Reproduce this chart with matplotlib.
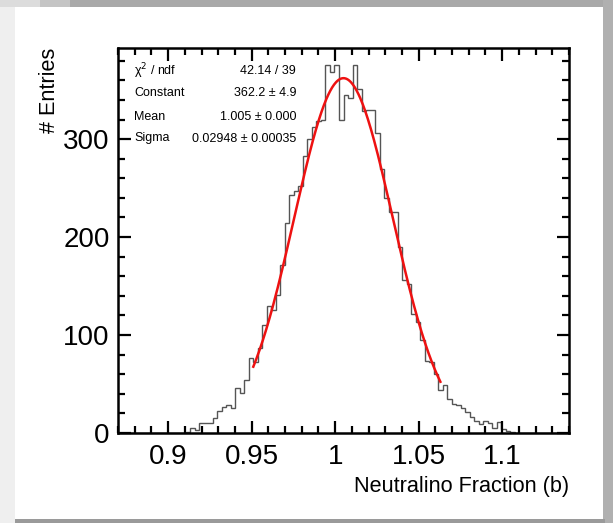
import numpy as np
import matplotlib
matplotlib.use("Agg")
import matplotlib.pyplot as plt
from matplotlib.patches import Rectangle
from matplotlib.ticker import MultipleLocator

plt.rcParams['font.family'] = ['Liberation Sans', 'DejaVu Sans']

# ---- data ----
x_min, x_max, n_bins = 0.87, 1.14, 100
counts = [0] * 15 + [
    1, 5, 3, 10, 10, 10, 15, 22, 27, 29,          # 15-24
    26, 46, 41, 54, 77, 72, 87, 110, 130, 126,    # 25-34
    141, 171, 214, 243, 247, 252, 283, 300, 312, 318,  # 35-44
    320, 376, 369, 376, 320, 345, 342, 376, 351, 329,  # 45-54
    330, 330, 306, 269, 240, 226, 226, 190, 156, 152,  # 55-64
    121, 113, 95, 74, 72, 60, 44, 49, 35, 30,     # 65-74
    29, 26, 21, 16, 12, 9, 12, 10, 5, 11,         # 75-84
    4, 2, 1] + [0] * 12                            # 85-99

fit_constant, fit_mean, fit_sigma = 362.2, 1.005, 0.02948
fit_lo, fit_hi = 0.951, 1.063

stat_names = ["χ$^{2}$ / ndf", "Constant", "Mean", "Sigma"]
stat_values = ["42.14 / 39", "362.2 ± 4.9", "1.005 ± 0.000", "0.02948 ± 0.00035"]

x_ticks = [0.9, 0.95, 1.0, 1.05, 1.1]
x_ticklabels = ["0.9", "0.95", "1", "1.05", "1.1"]
y_ticks = [0, 100, 200, 300]
y_max = 393

# ---- figure ----
W, H = 613, 523
fig = plt.figure(figsize=(W / 100, H / 100), dpi=100)
fig.patch.set_facecolor('white')

def px_rect(x0, y0, w, h, color):
    fig.patches.append(Rectangle((x0 / W, 1 - (y0 + h) / H), w / W, h / H,
                                 transform=fig.transFigure, color=color,
                                 zorder=-10, lw=0))

# screenshot border
px_rect(0, 0, 15, H, '#efefef')
px_rect(0, 0, W, 7, '#a9a9a9')
px_rect(0, 0, 40, 7, '#dcdcdc')
px_rect(40, 0, 30, 7, '#c4c4c4')
px_rect(603, 0, 10, H, '#b0b0b0')
px_rect(15, 519, 590, 4, '#9a9a9a')

ax = fig.add_axes([118 / W, 1 - 433 / H, (569 - 118) / W, (433 - 48) / H])

edges = np.linspace(x_min, x_max, n_bins + 1)
ax.stairs(counts, edges, color='#555555', lw=1.0)

xf = np.linspace(fit_lo, fit_hi, 300)
yf = fit_constant * np.exp(-0.5 * ((xf - fit_mean) / fit_sigma) ** 2)
ax.plot(xf, yf, color='#ee1111', lw=1.8)

ax.set_xlim(x_min, x_max)
ax.set_ylim(0, y_max)

ax.set_xticks(x_ticks)
ax.set_xticklabels(x_ticklabels)
ax.set_yticks(y_ticks)
ax.xaxis.set_minor_locator(MultipleLocator(0.01))
ax.yaxis.set_minor_locator(MultipleLocator(20))

ax.tick_params(which='both', direction='in', top=True, right=True, width=1.6,
               labelsize=20, color='black')
ax.tick_params(which='major', length=9)
ax.tick_params(which='minor', length=5)
ax.tick_params(axis='y', which='major', pad=6)
ax.tick_params(axis='x', which='major', pad=8)
for s in ax.spines.values():
    s.set_linewidth(1.8)

ax.set_xlabel("Neutralino Fraction (b)", fontsize=15.6, loc='right', labelpad=4)
ax.set_ylabel("# Entries", fontsize=15.6, loc='top', labelpad=2)

# stats box
ys = [71.5, 93, 116.5, 138.5]
for name, val, y in zip(stat_names, stat_values, ys):
    fig.text(134 / W, 1 - y / H, name, fontsize=9, va='center', ha='left')
    fig.text(296 / W, 1 - y / H, val, fontsize=9, va='center', ha='right')

fig.savefig("out.png", dpi=100, facecolor=fig.get_facecolor())
